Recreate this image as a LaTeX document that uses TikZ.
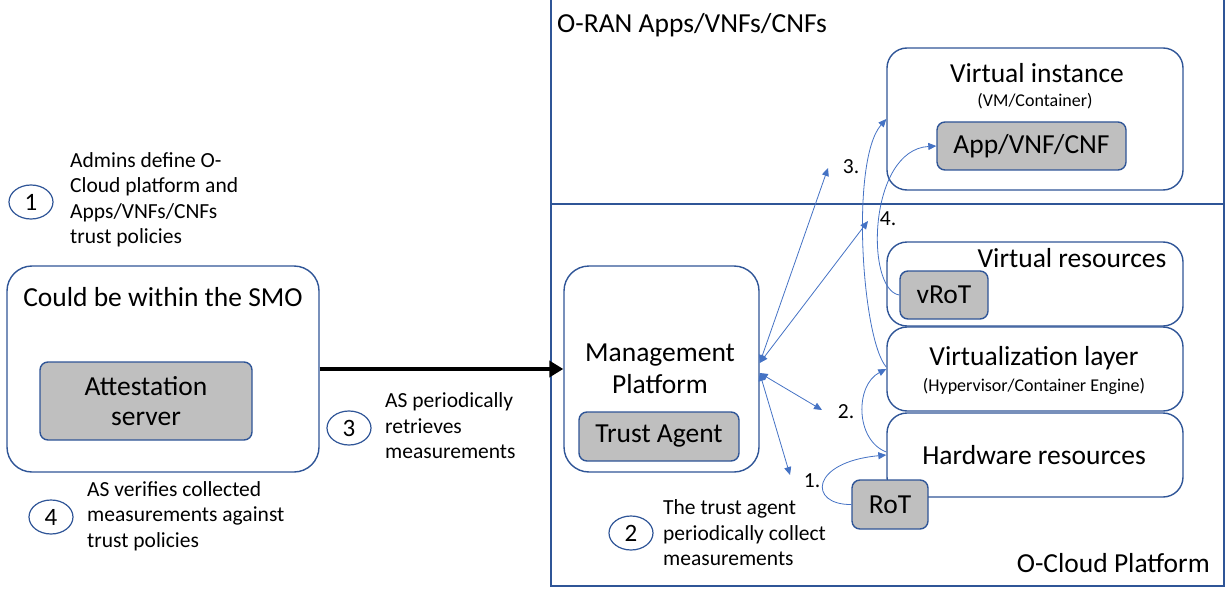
\documentclass[tikz,border=0pt]{standalone}
\usepackage{fontspec}
\setmainfont{Carlito}
\usetikzlibrary{arrows.meta,shapes.geometric}
\definecolor{boxblue}{HTML}{2F5597}
\definecolor{arrblue}{HTML}{4472C4}
\definecolor{graybox}{HTML}{BFBFBF}
\begin{document}
\begin{tikzpicture}[x=1pt,y=-1pt,
  big/.style={font=\fontsize{27.5}{32}\selectfont},
  small/.style={font=\fontsize{18}{21}\selectfont},
  lab/.style={font=\fontsize{21.5}{25.5}\selectfont},
  frame/.style={draw=boxblue, line width=1.4pt, inner sep=0pt},
  rbox/.style={draw=boxblue, line width=1.4pt, rounded corners=22pt, inner sep=0pt},
  gbox/.style={draw=boxblue, line width=1.4pt, fill=graybox, rounded corners=8pt, inner sep=0pt, big, align=center},
  txt/.style={inner sep=0pt, align=center},
  stepnum/.style={draw=boxblue, line width=1.2pt, ellipse, minimum width=44pt, minimum height=34pt, inner sep=0pt, font=\fontsize{25}{25}\selectfont},
  note/.style={lab, align=left, anchor=west, inner sep=0pt},
  conn/.style={draw=arrblue, line width=0.8pt, {Triangle[length=8pt,width=7pt]}-{Triangle[length=8pt,width=7pt]}},
  conn1/.style={draw=arrblue, line width=0.8pt, -{Triangle[length=8pt,width=7pt]}},
  bigarrow/.style={draw=black, line width=4.5pt, -{Triangle[length=14pt,width=16pt]}},
]
\useasboundingbox (0,0) rectangle (1230,596);

% outer frames
\node[frame, minimum width=673pt, minimum height=207pt] (oran) at (887.5,100.5) {};
\node[frame, minimum width=673pt, minimum height=382pt] (ocloud) at (887.5,395) {};
\node[big, inner sep=0pt, anchor=west] (orantitle) at (557,25) {O-RAN Apps/VNFs/CNFs};
\node[big, inner sep=0pt, anchor=east] (ocloudtitle) at (1210,563) {O-Cloud Platform};

% SMO
\node[rbox, rounded corners=25pt, minimum width=312pt, minimum height=206pt] (smo) at (163,369) {};
\node[txt, big] (smotitle) at (163,297) {Could be within the SMO};
\node[gbox, minimum width=212pt, minimum height=78pt] (as) at (146,401) {Attestation\\[-2pt]server};

% Management platform
\node[rbox, rounded corners=25pt, minimum width=195pt, minimum height=206pt] (mp) at (661.5,369) {};
\node[txt, big] (mptitle) at (660,369) {Management\\Platform};
\node[gbox, minimum width=160pt, minimum height=49pt] (ta) at (659,436.5) {Trust Agent};

% Virtual instance
\node[rbox, rounded corners=20pt, minimum width=296pt, minimum height=142pt] (vi) at (1035,119) {};
\node[txt, big] (vititle) at (1037,73) {Virtual instance};
\node[txt, small] (visub) at (1035,101) {(VM/Container)};
\node[gbox, minimum width=189pt, minimum height=48pt] (app) at (1031.5,146) {App/VNF/CNF};

% Virtual resources
\node[rbox, rounded corners=20pt, minimum width=296pt, minimum height=84pt] (vr) at (1035,284) {};
\node[txt, big] (vrtitle) at (1072,258) {Virtual resources};
\node[gbox, minimum width=88pt, minimum height=48pt] (vrot) at (944,295) {vRoT};

% Virtualization layer
\node[rbox, rounded corners=20pt, minimum width=296pt, minimum height=84pt] (vl) at (1035,369) {};
\node[txt, big] (vltitle) at (1034,358) {Virtualization layer};
\node[txt, small] (vlsub) at (1034,386) {(Hypervisor/Container Engine)};

% Hardware resources
\node[rbox, rounded corners=20pt, minimum width=296pt, minimum height=84pt] (hw) at (1035,455) {};
\node[txt, big] (hwtitle) at (1034,455) {Hardware resources};
\node[gbox, minimum width=76pt, minimum height=49pt] (rot) at (890,504.5) {RoT};

% step circles and notes
\node[stepnum] (s1) at (31,202) {1};
\node[note] (n1) at (70,200) {Admins define O-\\Cloud platform and\\Apps/VNFs/CNFs\\trust policies};
\node[stepnum] (s3) at (349,428) {3};
\node[note] (n3) at (385,426) {AS periodically\\retrieves\\measurements};
\node[stepnum] (s4) at (51,517) {4};
\node[note] (n4) at (87,516) {AS verifies collected\\measurements against\\trust policies};
\node[stepnum] (s2) at (631,533) {2};
\node[note] (n2) at (663,533) {The trust agent\\periodically collect\\measurements};

% arrow labels
\node[lab, inner sep=0pt] (l3) at (851,167) {3.};
\node[lab, inner sep=0pt] (l4) at (888,219) {4.};
\node[lab, inner sep=0pt] (l2) at (846,412) {2.};
\node[lab, inner sep=0pt] (l1) at (812,481) {1.};
\coordinate (t3) at (828,168);
\coordinate (t4) at (868,221);
\coordinate (t2) at (822,410);
\coordinate (t1) at (790,475);

% connectors
\draw[bigarrow] (smo.east) -- (mp.west);
\draw[conn] ([yshift=6pt]mp.east) -- (t3);
\draw[conn] ([yshift=6pt]mp.east) -- (t4);
\draw[conn] ([yshift=-4pt]mp.east) -- (t2);
\draw[conn] ([yshift=-4pt]mp.east) -- (t1);

\draw[conn1] (rot.west) .. controls (808,505) and (810,462) .. (hw.west);
\draw[conn1] ([yshift=3pt]hw.west) .. controls (855,440) and (855,385) .. (vl.west);
\draw[conn1] ([yshift=2pt]vl.west) .. controls (862,340) and (850,160) .. (vi.west);
\draw[conn1] (vrot.west) .. controls (865,290) and (868,150) .. (app.west);
\end{tikzpicture}
\end{document}
